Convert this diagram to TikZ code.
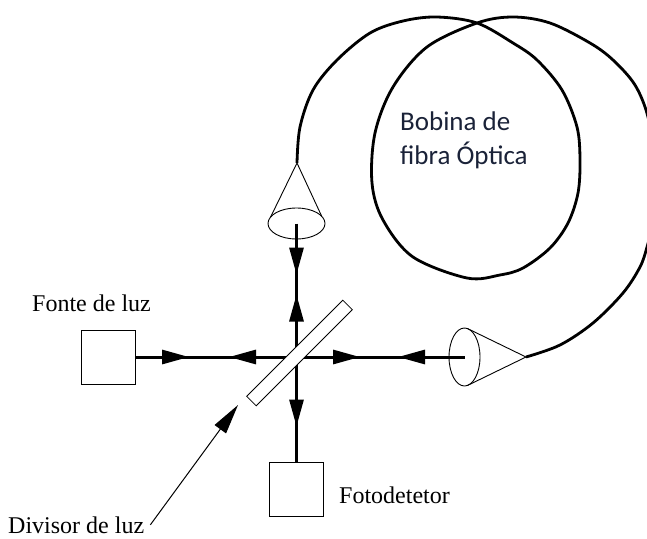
\documentclass[tikz,border=0pt]{standalone}
\usepackage{fontspec}
\setmainfont{Liberation Serif}
\newfontfamily\coilfont{Carlito}
\usepackage{xcolor}
\usetikzlibrary{positioning,calc,shapes.geometric,arrows.meta,decorations.markings}
\definecolor{coilink}{HTML}{1A2238}
\tikzset{
  box/.style={draw,line width=.8pt,minimum size=54pt,inner sep=0pt,outer sep=0pt},
  lens/.style={draw,ellipse,line width=.9pt,inner sep=0pt,outer sep=0pt},
  cone/.style={line width=.9pt},
  fibre/.style={line width=2.8pt,line join=round},
  beam/.style={line width=3pt},
  tag/.style={font=\fontsize{24}{26}\selectfont,inner sep=0pt,anchor=base west},
  fwd/.style={postaction={decorate,decoration={markings,
    mark=at position #1pt with {\arrow{Triangle[length=27pt,width=14pt]}}}}},
  bwd/.style={postaction={decorate,decoration={markings,
    mark=at position #1pt with {\arrowreversed{Triangle[length=27pt,width=14pt]}}}}}
}
\begin{document}
\begin{tikzpicture}[x=1pt,y=-1pt]
\useasboundingbox (0,0) rectangle (647,538);

\node[box] (source) at (108,357) {};
\node[box] (detector) at (296.5,489) {};
\node[lens,minimum width=57pt,minimum height=31pt] (lenstop) at (296.5,223.5) {};
\node[lens,minimum width=31pt,minimum height=58pt] (lensright) at (464.5,357) {};
\coordinate (apextop) at (297,163);
\coordinate (apexright) at (526,357);

\draw[cone] (lenstop.166) -- (apextop) -- (lenstop.16);
\draw[cone] (lensright.84) -- (apexright) -- (lensright.276);

% beams
\draw[beam,fwd=54,bwd=94,fwd=225,bwd=263] (source.east) -- (lensright.center);
\draw[beam,fwd=51,bwd=71,fwd=203] (lenstop.center) -- (detector.north);

\node[draw,fill=white,line width=.8pt,minimum width=136pt,minimum height=13.5pt,
  inner sep=0pt,outer sep=0pt,rotate=45] (splitter) at (299.5,353) {};

% coil
\draw[fibre] plot[smooth,tension=.55] coordinates {(apextop) (300,127) (313,90) (337,60)
  (370,33) (403,21) (437,17) (477,23) (513,43) (537,60) (562,90) (577,127) (580,160)
  (578,193) (568,223) (550,248) (523,268) (500,275) (467,278) (413,257) (383,220)
  (372,183) (375,133) (393,87) (427,47) (477,23) (513,17) (550,23) (590,43)
  (613,60) (635,85) (648,117) (654,160) (655,190) (652,225) (647,247) (640,267)
  (623,293) (593,323) (560,345) (apexright)};

% labels
\node[tag] (fontelabel) at (32,311) {Fonte de luz};
\node[tag] (detlabel) at (339,503) {Fotodetetor};
\node[tag] (divlabel) at (8,533) {Divisor de luz};
\node[anchor=base west,inner sep=0pt,align=left,text=coilink,
  font=\coilfont\fontsize{27}{34}\selectfont] (coillabel) at (400,164) {Bobina de\\fibra Óptica};

\coordinate (divtip) at (238,405);
\draw[line width=1pt,-{Triangle[length=30pt,width=14pt]}] ([xshift=6pt]divlabel.east) -- (divtip);
\end{tikzpicture}
\end{document}
